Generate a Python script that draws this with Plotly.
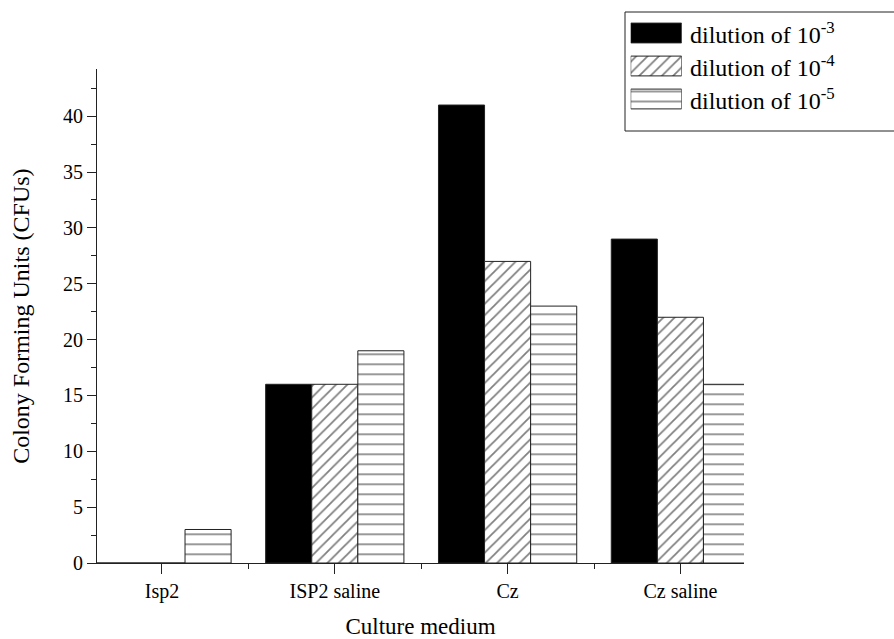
import plotly.graph_objects as go

categories = ["Isp2", "ISP2 saline", "Cz", "Cz saline"]
series_names = ["dilution of 10<sup>-3</sup>", "dilution of 10<sup>-4</sup>", "dilution of 10<sup>-5</sup>"]
dil_3 = [0, 16, 41, 29]
dil_4 = [0, 16, 27, 22]
dil_5 = [3, 19, 23, 16]

FONT = "Liberation Serif, Times New Roman, Times, serif"
LINE = "#222"

series = [dil_3, dil_4, dil_5]
styles = [
    dict(color="black", pattern=None),
    dict(color="white", pattern=dict(shape="/", fgcolor="black", bgcolor="white", size=8, solidity=0.22)),
    dict(color="white", pattern=dict(shape="-", fgcolor="black", bgcolor="white", size=10, solidity=0.16)),
]

x_pos = list(range(len(categories)))

fig = go.Figure()
for name, vals, st in zip(series_names, series, styles):
    marker = dict(color=st["color"], line=dict(color=LINE, width=1))
    if st["pattern"]:
        marker["pattern"] = st["pattern"]
    fig.add_trace(go.Bar(x=x_pos, y=vals, name=name, marker=marker, showlegend=False,
                         xaxis="x", yaxis="y"))

# legend swatches drawn on a small hidden axis
for i, (name, st) in enumerate(zip(series_names, styles)):
    marker = dict(color=st["color"], line=dict(color=LINE, width=1))
    if st["pattern"]:
        marker["pattern"] = st["pattern"]
    fig.add_trace(go.Bar(x=[1], y=[i], orientation="h", width=0.6, marker=marker,
                         showlegend=False, xaxis="x2", yaxis="y2", hoverinfo="skip"))

W, H = 894, 639
ml, mb = 97, 76
pw, ph = W - ml, H - mb


def px(xp):
    return (xp - ml) / pw


def py(yp):
    return (ph - yp) / ph


row_centers = [33, 66, 99]
annotations = []
for name, rc in zip(series_names, row_centers):
    annotations.append(dict(text=name, x=px(688), y=py(rc), xref="paper", yref="paper",
                            xanchor="left", yanchor="middle", showarrow=False,
                            font=dict(family=FONT, size=24, color="black")))

fig.update_layout(
    width=W, height=H,
    margin=dict(l=ml, r=0, t=0, b=mb, pad=0),
    paper_bgcolor="white", plot_bgcolor="white",
    barmode="group", bargap=0.2, bargroupgap=0,
    showlegend=False,
    font=dict(family=FONT, color="black"),
    xaxis=dict(
        domain=[0, px(744)], range=[-0.376, 3.368], anchor="y",
        tickmode="array", tickvals=x_pos, ticktext=categories,
        ticks="outside", ticklen=10, tickwidth=1, tickcolor=LINE,
        minor=dict(tickmode="array", tickvals=[0.5, 1.5, 2.5], ticks="outside",
                   ticklen=5, tickwidth=1, tickcolor=LINE),
        showline=True, linecolor=LINE, linewidth=1, showgrid=False, zeroline=False,
        tickfont=dict(family=FONT, size=20, color="black"),
        title=dict(text="Culture medium", font=dict(family=FONT, size=23, color="black"), standoff=16),
    ),
    yaxis=dict(
        domain=[0, py(69.3)], range=[0, 44.2], anchor="x",
        tickmode="linear", tick0=0, dtick=5,
        ticks="outside", ticklen=9, tickwidth=1, tickcolor=LINE,
        minor=dict(dtick=2.5, ticks="outside", ticklen=5, tickwidth=1, tickcolor=LINE),
        showline=True, linecolor=LINE, linewidth=1, showgrid=False, zeroline=False,
        tickfont=dict(family=FONT, size=20, color="black"),
        title=dict(text="Colony Forming Units (CFUs)", font=dict(family=FONT, size=24, color="black"), standoff=26),
    ),
    xaxis2=dict(domain=[px(630.7), px(681.7)], range=[0, 1], visible=False, anchor="y2", fixedrange=True),
    yaxis2=dict(domain=[py(row_centers[-1] + 16.5), py(row_centers[0] - 16.5)], range=[2.5, -0.5],
                visible=False, anchor="x2", fixedrange=True),
    shapes=[dict(type="rect", xref="paper", yref="paper", x0=px(625), x1=px(900), y0=py(131), y1=py(12),
                 line=dict(color=LINE, width=1), fillcolor="rgba(0,0,0,0)", layer="above")],
    annotations=annotations,
)

fig.write_html("out.html")
